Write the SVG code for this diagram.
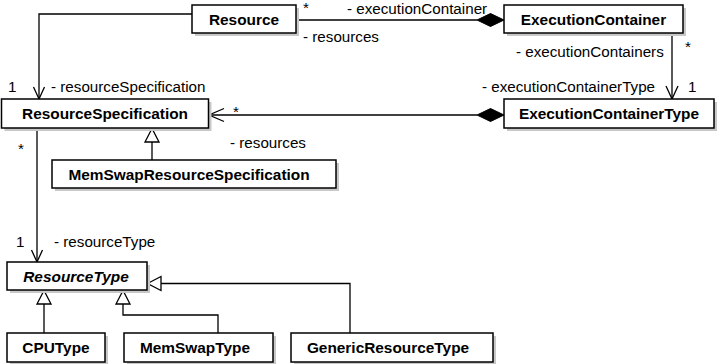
<svg xmlns="http://www.w3.org/2000/svg" width="719" height="364" viewBox="0 0 719 364">
  <style>
    .shadow { fill: #c8c8c8; }
    .box { fill: #ffffff; stroke: #000000; stroke-width: 1.5; }
    .name { font-family: "Liberation Sans", Arial, sans-serif; font-size: 15.4px; font-weight: bold; fill: #000000; text-anchor: middle; }
    .abstract { font-style: italic; }
    .lbl { font-family: "Liberation Sans", Arial, sans-serif; font-size: 15.2px; fill: #000000; }
    .line { fill: none; stroke: #000000; stroke-width: 1.3; }
    .open { fill: none; stroke: #000000; stroke-width: 1.3; }
    .tri { fill: #ffffff; stroke: #000000; stroke-width: 1.3; }
    .dia { fill: #000000; stroke: #000000; stroke-width: 1; }
  </style>

  <!-- connectors -->
  <g id="connectors">
    <!-- Resource -> ResourceSpecification -->
    <path class="line" d="M192,14 H39 V99"/>
    <path class="open" d="M33.5,87 L39,99 L44.5,87"/>

    <!-- Resource <>- ExecutionContainer -->
    <path class="line" d="M296,20 H477"/>
    <path class="dia" d="M477,20 L490.5,13.5 L504,20 L490.5,26.5 Z"/>

    <!-- ExecutionContainer -> ExecutionContainerType -->
    <path class="line" d="M672,33 V99"/>
    <path class="open" d="M666,86 L672,99 L678,86"/>

    <!-- ExecutionContainerType <>- ResourceSpecification -->
    <path class="line" d="M477,115 H209"/>
    <path class="dia" d="M504,115 L490.5,108.5 L477,115 L490.5,121.5 Z"/>
    <path class="open" d="M224,108.5 L209,115 L224,121.5"/>

    <!-- MemSwapResourceSpecification generalizes ResourceSpecification -->
    <path class="line" d="M152,160 V142"/>
    <path class="tri" d="M152,128.5 L145,142 L159,142 Z"/>

    <!-- ResourceSpecification -> ResourceType -->
    <path class="line" d="M37,128 V262"/>
    <path class="open" d="M31.5,250 L37,262 L42.5,250"/>

    <!-- CPUType generalizes ResourceType -->
    <path class="line" d="M44,333 V304"/>
    <path class="tri" d="M44,290.5 L37,304 L51,304 Z"/>

    <!-- MemSwapType generalizes ResourceType -->
    <path class="line" d="M218,333 V315 H123 V304"/>
    <path class="tri" d="M123,290.5 L116,304 L130,304 Z"/>

    <!-- GenericResourceType generalizes ResourceType -->
    <path class="line" d="M350,333 V283.5 H161"/>
    <path class="tri" d="M147.5,283.5 L161,276.5 L161,290.5 Z"/>
  </g>

  <!-- connector end labels -->
  <g id="labels">
    <text class="lbl" x="303" y="13">*</text>
    <text class="lbl" x="347" y="13.5">- executionContainer</text>
    <text class="lbl" x="303" y="42">- resources</text>
    <text class="lbl" x="516" y="57">- executionContainers</text>
    <text class="lbl" x="685" y="52">*</text>
    <text class="lbl" x="482" y="91.5">- executionContainerType</text>
    <text class="lbl" x="688" y="91.5">1</text>
    <text class="lbl" x="8" y="92">1</text>
    <text class="lbl" x="51" y="92">- resourceSpecification</text>
    <text class="lbl" x="233" y="116.5">*</text>
    <text class="lbl" x="230" y="147.5">- resources</text>
    <text class="lbl" x="18" y="153.5">*</text>
    <text class="lbl" x="16" y="246.5">1</text>
    <text class="lbl" x="54" y="246.5">- resourceType</text>
  </g>

  <g id="Resource">
    <rect class="shadow" x="195" y="8" width="104" height="28"/>
    <rect class="box" x="192" y="5" width="104" height="28"/>
    <text class="name" x="244" y="24.5">Resource</text>
  </g>

  <g id="ExecutionContainer">
    <rect class="shadow" x="507" y="8" width="179" height="28"/>
    <rect class="box" x="504" y="5" width="179" height="28"/>
    <text class="name" x="593.5" y="24.5">ExecutionContainer</text>
  </g>

  <g id="ResourceSpecification">
    <rect class="shadow" x="4.5" y="102" width="207" height="29"/>
    <rect class="box" x="1.5" y="99" width="207" height="29"/>
    <text class="name" x="105" y="119">ResourceSpecification</text>
  </g>

  <g id="ExecutionContainerType">
    <rect class="shadow" x="507" y="102" width="210" height="29"/>
    <rect class="box" x="504" y="99" width="210" height="29"/>
    <text class="name" x="609" y="119">ExecutionContainerType</text>
  </g>

  <g id="MemSwapResourceSpecification">
    <rect class="shadow" x="55" y="163" width="284" height="28"/>
    <rect class="box" x="52" y="160" width="284" height="28"/>
    <text class="name" x="189" y="179.5">MemSwapResourceSpecification</text>
  </g>

  <g id="ResourceType">
    <rect class="shadow" x="10" y="265" width="140" height="28"/>
    <rect class="box" x="7" y="262" width="140" height="28"/>
    <text class="name abstract" x="76" y="281.5">ResourceType</text>
  </g>

  <g id="CPUType">
    <rect class="shadow" x="10" y="336" width="98" height="29"/>
    <rect class="box" x="7" y="333" width="98" height="29"/>
    <text class="name" x="56" y="353">CPUType</text>
  </g>

  <g id="MemSwapType">
    <rect class="shadow" x="127" y="336" width="149" height="29"/>
    <rect class="box" x="124" y="333" width="149" height="29"/>
    <text class="name" x="195" y="353">MemSwapType</text>
  </g>

  <g id="GenericResourceType">
    <rect class="shadow" x="294" y="336" width="202" height="29"/>
    <rect class="box" x="291" y="333" width="202" height="29"/>
    <text class="name" x="388" y="353">GenericResourceType</text>
  </g>
</svg>
